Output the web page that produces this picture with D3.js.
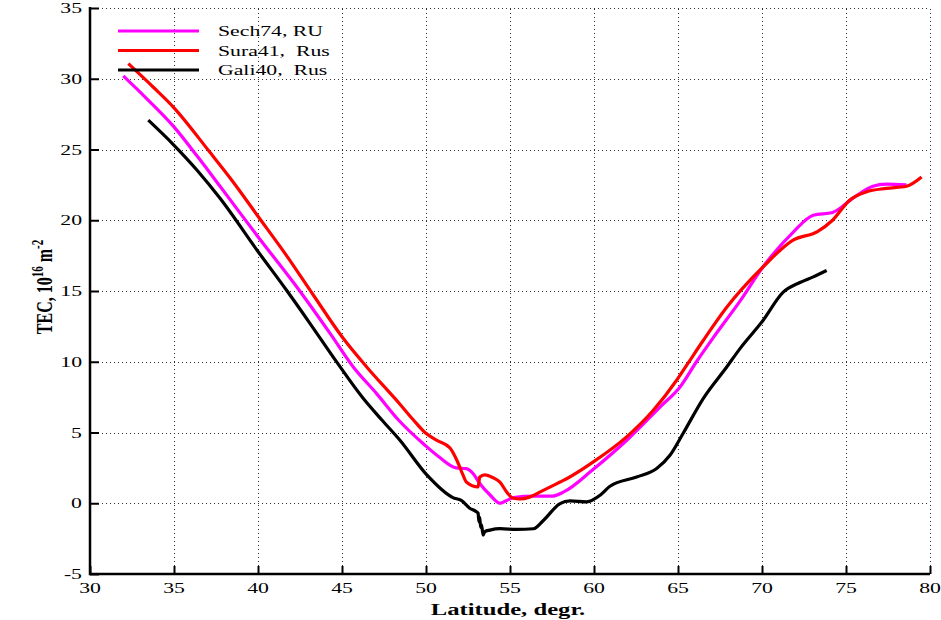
<!DOCTYPE html>
<html>
<head>
<meta charset="utf-8">
<script src="https://cdn.jsdelivr.net/npm/d3@7"></script>
<style>
  html, body { margin: 0; padding: 0; background: #fff; }
  svg { display: block; }
  text { font-family: "Liberation Serif", "Times New Roman", serif; fill: #000; }
</style>
</head>
<body>
<svg id="chart" width="941" height="620"></svg>
<script>
// ---- data ----
const xTicks = [30, 35, 40, 45, 50, 55, 60, 65, 70, 75, 80];
const yTicks = [-5, 0, 5, 10, 15, 20, 25, 30, 35];

const sechLat = [31.98, 33.37, 34.96, 36.4, 37.74, 40.02, 42.3, 44.29, 45.67, 47.06, 48.35, 49.94, 50.8, 51.8, 52.4, 52.8, 53.2, 53.8, 54.4, 54.8, 55.2, 56.4, 57.5, 58.2, 59.96, 61.95, 63.93, 65.12, 66.1, 67.1, 68.7, 70.06, 71.85, 73.05, 74.2, 75.4, 76.6, 77.4, 78.6];
const sechTec = [30.2, 28.6, 26.65, 24.5, 22.4, 18.8, 15.3, 12.0, 9.63, 7.75, 5.9, 4.1, 3.25, 2.5, 2.45, 2.1, 1.4, 0.6, 0.0, 0.2, 0.4, 0.5, 0.5, 0.8, 2.4, 4.45, 6.8, 8.22, 10.0, 11.7, 14.3, 16.7, 19.15, 20.35, 20.55, 21.55, 22.4, 22.55, 22.5];

const suraLat = [32.28, 33.77, 34.96, 37.14, 38.43, 40.02, 41.7, 43.3, 45.08, 46.47, 48.45, 49.24, 49.94, 50.65, 51.43, 51.85, 52.2, 52.4, 53.1, 53.2, 53.5, 54.0, 54.4, 54.8, 55.2, 55.6, 56.2, 56.8, 57.98, 58.4, 59.96, 61.94, 63.53, 64.92, 65.6, 66.5, 67.9, 70.06, 71.85, 73.3, 74.2, 75.2, 76.2, 77.4, 78.6, 79.5];
const suraTec = [31.07, 29.4, 28.0, 24.8, 22.85, 20.25, 17.5, 14.7, 11.64, 9.63, 7.0, 5.9, 5.0, 4.45, 3.9, 3.0, 2.0, 1.5, 1.15, 1.85, 2.0, 1.8, 1.5, 0.8, 0.35, 0.3, 0.45, 0.8, 1.5, 1.75, 2.92, 4.69, 6.57, 8.69, 9.9, 11.5, 13.85, 16.7, 18.6, 19.2, 20.0, 21.4, 22.0, 22.25, 22.4, 23.05];

const galiLat = [33.47, 34.96, 36.4, 37.74, 40.02, 41.7, 43.1, 44.68, 46.27, 47.36, 48.45, 50.05, 51.6, 52.1, 52.6, 53.0, 53.1, 53.15, 53.2, 53.25, 53.3, 53.4, 53.5, 53.8, 54.4, 55.4, 56.4, 57.0, 57.98, 58.57, 59.56, 60.4, 60.95, 62.54, 63.73, 64.52, 65.3, 66.5, 67.9, 68.69, 70.05, 71.25, 72.26, 73.05, 73.85];
const galiTec = [27.07, 25.35, 23.5, 21.55, 17.76, 15.05, 12.7, 9.99, 7.4, 5.9, 4.45, 2.0, 0.4, 0.2, -0.35, -0.6, -0.7, -1.3, -1.0, -1.7, -1.5, -2.25, -2.0, -1.9, -1.8, -1.85, -1.8, -1.2, -0.02, 0.17, 0.1, 0.6, 1.2, 1.86, 2.45, 3.39, 4.93, 7.4, 9.63, 10.93, 12.9, 14.9, 15.6, 16.0, 16.45];

const seriesNames = ["Sech74, RU", "Sura41,  Rus", "Gali40,  Rus"];
const seriesColors = ["#ff00ff", "#ff0000", "#000000"];

// ---- layout ----
const svg = d3.select("#chart");
const X0 = 90, X1 = 930, Y0 = 574, Y1 = 8;
const SX = 1.45; // horizontal stretch of the reference's text
const x = d3.scaleLinear().domain([30, 80]).range([X0, X1]);
const y = d3.scaleLinear().domain([-5, 35]).range([Y0, Y1]);

function stretchedText(g, px, py, str, opts) {
  return g.append("text")
    .attr("transform", `translate(${px},${py}) scale(${SX},1)`)
    .attr("font-size", opts.size)
    .attr("font-weight", opts.weight || "normal")
    .attr("text-anchor", opts.anchor || "start")
    .text(str);
}

// grid
const grid = svg.append("g").attr("stroke", "#333").attr("stroke-width", 1).attr("stroke-dasharray", "1,3");
grid.selectAll("line.v").data(xTicks.filter(d => d > 30)).join("line")
  .attr("x1", d => Math.round(x(d)) + 0.5).attr("x2", d => Math.round(x(d)) + 0.5)
  .attr("y1", Y0).attr("y2", Y1);
grid.selectAll("line.h").data(yTicks.filter(d => d > -5)).join("line")
  .attr("y1", d => Math.round(y(d)) + 0.5).attr("y2", d => Math.round(y(d)) + 0.5)
  .attr("x1", X0).attr("x2", X1);

// axes (left and bottom, inward ticks)
const xAxis = d3.axisTop(x).tickValues(xTicks).tickSize(8).tickFormat("");
const yAxis = d3.axisRight(y).tickValues(yTicks).tickSize(9).tickFormat("");
const gx = svg.append("g").attr("transform", `translate(0,${Y0})`).call(xAxis);
const gy = svg.append("g").attr("transform", `translate(${X0},0)`).call(yAxis);
[gx, gy].forEach(g => {
  g.select(".domain").remove();
  g.selectAll(".tick line").attr("stroke", "#000").attr("stroke-width", 2);
});
svg.append("path")
  .attr("d", `M${X0},${Y1 - 1}V${Y0}H${X1}`)
  .attr("fill", "none").attr("stroke", "#000").attr("stroke-width", 2.5);

// tick labels
const lab = svg.append("g");
xTicks.forEach(d => stretchedText(lab, x(d), 593, String(d), { size: 15, anchor: "middle" }));
yTicks.forEach(d => stretchedText(lab, 82, y(d) + 5, String(d), { size: 15, anchor: "end" }));

// axis titles
stretchedText(svg, 508, 615, "Latitude, degr.", { size: 17, weight: "bold", anchor: "middle" });
const yl = svg.append("text")
  .attr("transform", `translate(52,287) rotate(-90) scale(1,${SX})`)
  .attr("font-size", 16).attr("font-weight", "bold").attr("text-anchor", "middle");
yl.append("tspan").text("TEC, 10");
yl.append("tspan").attr("dy", -6).attr("font-size", 11).text("16");
yl.append("tspan").attr("dy", 6).text(" m");
yl.append("tspan").attr("dy", -6).attr("font-size", 11).text("-2");

// series
const line = d3.line().x(d => x(d[0])).y(d => y(d[1])).curve(d3.curveMonotoneX);
const series = [
  d3.zip(sechLat, sechTec),
  d3.zip(suraLat, suraTec),
  d3.zip(galiLat, galiTec)
];
svg.append("g").selectAll("path").data(series).join("path")
  .attr("d", line)
  .attr("fill", "none")
  .attr("stroke", (d, i) => seriesColors[i])
  .attr("stroke-width", 3.2)
  .attr("stroke-linejoin", "round");

// legend
const leg = svg.append("g");
seriesNames.forEach((name, i) => {
  const ly = 31 + i * 19.5;
  leg.append("line").attr("x1", 118).attr("x2", 199).attr("y1", ly).attr("y2", ly)
    .attr("stroke", seriesColors[i]).attr("stroke-width", 3);
  stretchedText(leg, 218, ly + 5, name, { size: 15 }).style("white-space", "pre");
});
</script>
</body>
</html>
